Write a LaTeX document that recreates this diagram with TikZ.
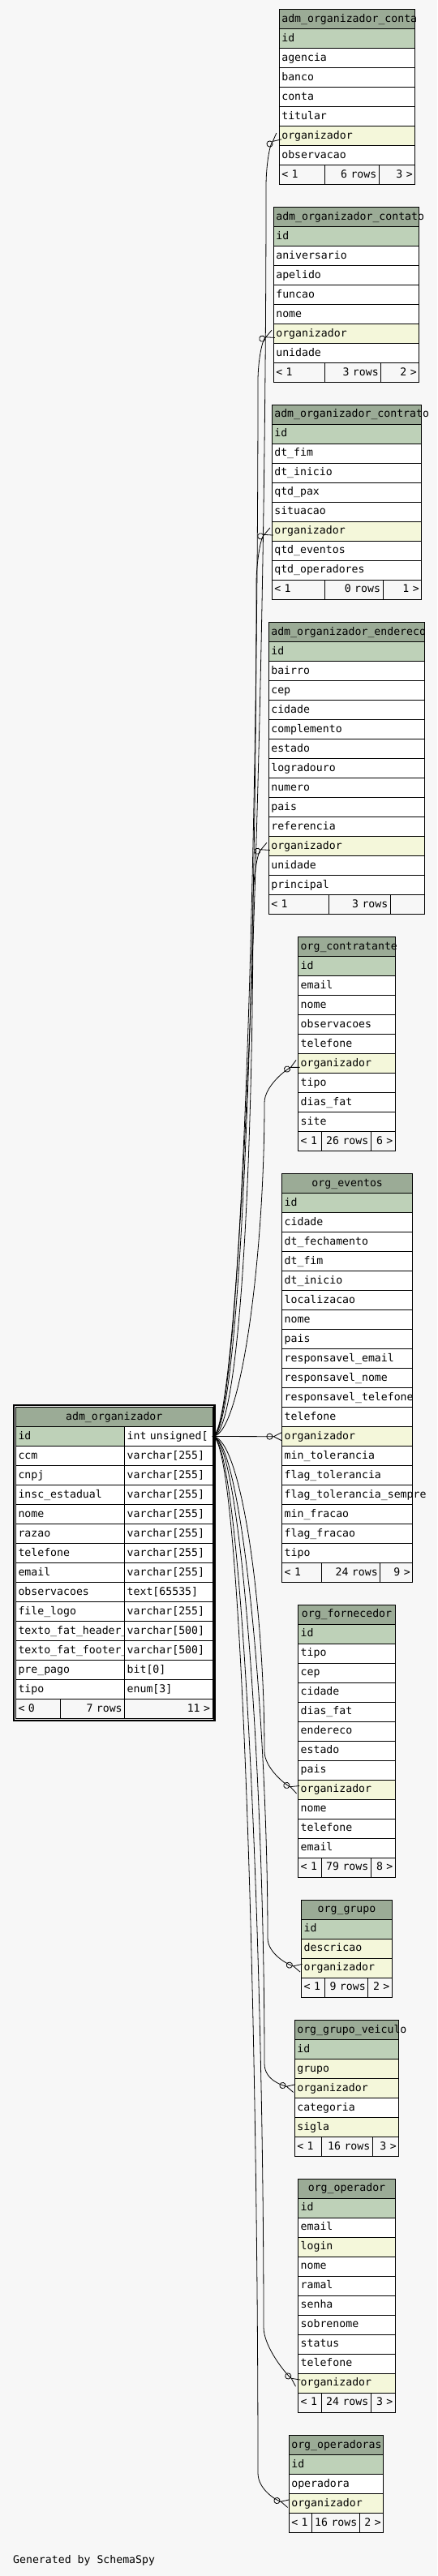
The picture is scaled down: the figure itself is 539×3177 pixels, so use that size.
\documentclass[tikz,border=0pt]{standalone}
\usepackage{fontspec}
\newfontfamily\schemafont{DejaVu Sans Mono}
\usetikzlibrary{arrows.meta,positioning}
\definecolor{bgc}{HTML}{F7F7F7}
\definecolor{hdc}{HTML}{9BAB96}
\definecolor{pkc}{HTML}{BED1B8}
\definecolor{ixc}{HTML}{F4F7DA}
% table: name, x, y, text width, title, rows (text/style)
\newcommand\dbtable[6]{%
 \node[hd,text width=#4pt,anchor=north west] (#1-0) at (#2,#3) {#5};
 \foreach \f/\s [count=\i, remember=\i as \p (initially 0)] in {#6}
  \node[\s,text width=#4pt,below=0pt of #1-\p] (#1-\i) {\f};
}
% footer: name, row above, three text widths, three texts
\newcommand\dbfoot[8]{%
 \node[ft,text width=#3pt,align=left,anchor=north west] (#1-fa) at (#2.south west) {#6};
 \node[ft,text width=#4pt,align=right,right=0pt of #1-fa] (#1-fb) {#7};
 \node[ft,text width=#5pt,align=right,right=0pt of #1-fb] (#1-fc) {#8};
}
\begin{document}
\begin{tikzpicture}[x=1pt,y=-1pt,node distance=0pt,
 cell/.style={draw,line width=1pt,outer sep=0pt,inner xsep=3pt,inner ysep=0pt,minimum height=24pt,text height=10pt,text depth=3pt,align=left,font={\schemafont\fontsize{13.2pt}{15pt}\selectfont}},
 hd/.style={cell,fill=hdc,align=center},
 pk/.style={cell,fill=pkc},
 ix/.style={cell,fill=ixc},
 col/.style={cell,fill=white},
 ft/.style={cell,fill=bgc},
 fk/.style={line width=0.8pt,-{Circle[open,length=8pt] Straight Barb[reversed,length=10pt,width=10pt]}}]
\fill[bgc] (0,0) rectangle (539,3177);
\useasboundingbox (0,0) rectangle (539,3177);

\dbtable{conta}{344.3}{11.7}{161.4}{adm\_organizador\_conta}{id/pk,agencia/col,banco/col,conta/col,titular/col,organizador/ix,observacao/col}
\dbfoot{conta}{conta-7}{50}{61}{38.4}{< 1}{6 rows}{3 >}

\dbtable{contato}{337.3}{255.7}{173.4}{adm\_organizador\_contato}{id/pk,aniversario/col,apelido/col,funcao/col,nome/col,organizador/ix,unidade/col}
\dbfoot{contato}{contato-7}{57}{63.4}{41}{< 1}{3 rows}{2 >}

\dbtable{contrato}{335.3}{499.3}{178.4}{adm\_organizador\_contrato}{id/pk,dt\_fim/col,dt\_inicio/col,qtd\_pax/col,situacao/col,organizador/ix,qtd\_eventos/col,qtd\_operadores/col}
\dbfoot{contrato}{contrato-8}{59}{65.7}{41.7}{< 1}{0 rows}{1 >}

\dbtable{endereco}{331.3}{767.7}{186}{adm\_organizador\_endereco}{id/pk,bairro/col,cep/col,cidade/col,complemento/col,estado/col,logradouro/col,numero/col,pais/col,referencia/col,organizador/ix,unidade/col,principal/col}
\dbfoot{endereco}{endereco-13}{68.4}{69.6}{36}{< 1}{3 rows}{}

\dbtable{contratante}{367.7}{1155.7}{113.6}{org\_contratante}{id/pk,email/col,nome/col,observacoes/col,telefone/col,organizador/ix,tipo/col,dias\_fat/col,site/col}
\dbfoot{contratante}{contratante-9}{22.6}{55}{24}{< 1}{26 rows}{6 >}

\dbtable{eventos}{347.7}{1447.7}{155}{org\_eventos}{id/pk,cidade/col,dt\_fechamento/col,dt\_fim/col,dt\_inicio/col,localizacao/col,nome/col,pais/col,responsavel\_email/col,responsavel\_nome/col,responsavel\_telefone/col,telefone/col,organizador/ix,min\_tolerancia/col,flag\_tolerancia/col,flag\_tolerancia\_sempre/col,min\_fracao/col,flag\_fracao/col,tipo/col}
\dbfoot{eventos}{eventos-19}{42.6}{66.4}{34}{< 1}{24 rows}{9 >}

\dbtable{fornecedor}{367.7}{1979.3}{113.6}{org\_fornecedor}{id/pk,tipo/col,cep/col,cidade/col,dias\_fat/col,endereco/col,estado/col,pais/col,organizador/ix,nome/col,telefone/col,email/col}
\dbfoot{fornecedor}{fornecedor-12}{22.6}{55}{24}{< 1}{79 rows}{8 >}

\dbtable{grupo}{371.7}{2343.3}{105.6}{org\_grupo}{id/pk,descricao/ix,organizador/ix}
\dbfoot{grupo}{grupo-3}{23}{47}{23.6}{< 1}{9 rows}{2 >}

\dbtable{veiculo}{363.3}{2491.7}{122.4}{org\_grupo\_veiculo}{id/pk,grupo/ix,organizador/ix,categoria/col,sigla/ix}
\dbfoot{veiculo}{veiculo-5}{27}{57}{26.4}{< 1}{16 rows}{3 >}

\dbtable{operador}{367.7}{2687.3}{113.6}{org\_operador}{id/pk,email/col,login/ix,nome/col,ramal/col,senha/col,sobrenome/col,status/col,telefone/col,organizador/ix}
\dbfoot{operador}{operador-10}{22.6}{55}{24}{< 1}{24 rows}{3 >}

\dbtable{operadoras}{356.3}{3003.7}{110.4}{org\_operadoras}{id/pk,operadora/col,organizador/ix}
\dbfoot{operadoras}{operadoras-3}{22}{53}{23.4}{< 1}{16 rows}{2 >}

% the referenced table, two columns
\node[hd,text width=236.5pt,anchor=north west] (adm-0) at (19.5,1735.5) {adm\_organizador};
\foreach \n/\t/\s [count=\i, remember=\i as \p (initially 0)] in {id/int unsigned[/pk,ccm/varchar[255]/col,cnpj/varchar[255]/col,insc\_estadual/varchar[255]/col,nome/varchar[255]/col,razao/varchar[255]/col,telefone/varchar[255]/col,email/varchar[255]/col,observacoes/text[65535]/col,file\_logo/varchar[255]/col,texto\_fat\_header\_/varchar[500]/col,texto\_fat\_footer\_/varchar[500]/col,pre\_pago/bit[0]/col,tipo/enum[3]/col}{
 \node[\s,text width=128.2pt,anchor=north west] (adm-\i) at (adm-\p.south west) {\n};
 \node[col,text width=102.3pt,right=0pt of adm-\i] (admt-\i) {\t};
}
\dbfoot{adm}{adm-14}{48.8}{73.4}{102.3}{< 0}{7 rows}{11 >}
\draw[line width=2.5pt] (17,1733) rectangle (264.5,2122);

% foreign keys
\draw[fk] (admt-1.east) .. controls +(35,0) and +(0,700) .. (328,230) .. controls +(0,-25) and +(-12,10) .. (conta-6.west);
\draw[fk] (admt-1.east) .. controls +(35,0) and +(0,600) .. (318,470) .. controls +(0,-25) and +(-14,6) .. (contato-6.west);
\draw[fk] (admt-1.east) .. controls +(35,0) and +(0,480) .. (316,720) .. controls +(0,-25) and +(-14,6) .. (contrato-6.west);
\draw[fk] (admt-1.east) .. controls +(35,0) and +(0,300) .. (312,1110) .. controls +(0,-25) and +(-14,6) .. (endereco-11.west);
\draw[fk] (admt-1.east) .. controls +(35,0) and +(0,190) .. (326,1360) .. controls +(0,-20) and +(-16,8) .. (contratante-6.west);
\draw[fk] (admt-1.east) -- (eventos-13.west);
\draw[fk] (admt-1.east) .. controls +(35,0) and +(0,-180) .. (326,2160) .. controls +(0,20) and +(-16,-6) .. (fornecedor-9.west);
\draw[fk] (admt-1.east) .. controls +(35,0) and +(0,-280) .. (330,2390) .. controls +(0,20) and +(-16,-4) .. (grupo-3.west);
\draw[fk] (admt-1.east) .. controls +(35,0) and +(0,-350) .. (326,2545) .. controls +(0,20) and +(-16,-4) .. (veiculo-3.west);
\draw[fk] (admt-1.east) .. controls +(35,0) and +(0,-500) .. (325,2870) .. controls +(0,25) and +(-14,-10) .. (operador-10.west);
\draw[fk] (admt-1.east) .. controls +(35,0) and +(0,-580) .. (318,3050) .. controls +(0,20) and +(-16,-4) .. (operadoras-3.west);

\node[anchor=west,inner sep=0pt,font={\schemafont\fontsize{13.2pt}{15pt}\selectfont}] (gen) at (16,3158) {Generated by SchemaSpy};
\end{tikzpicture}
\end{document}
